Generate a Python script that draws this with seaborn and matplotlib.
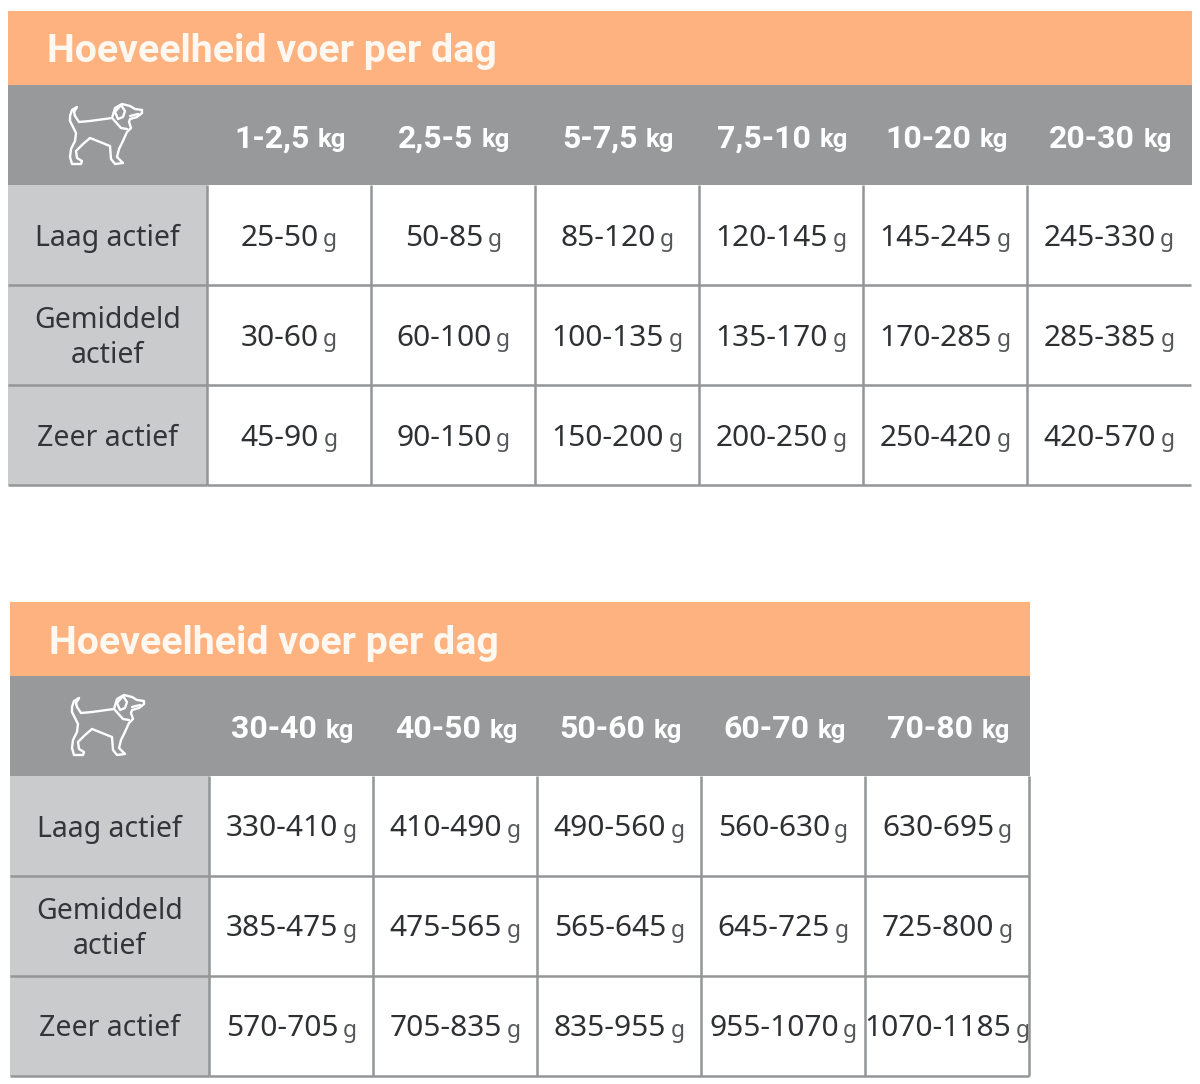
import numpy as np
import pandas as pd
import seaborn as sns
import matplotlib.pyplot as plt
from matplotlib.colors import ListedColormap
from matplotlib.patches import Rectangle

# table 1
weights_1 = ["1-2,5", "2,5-5", "5-7,5", "7,5-10", "10-20", "20-30"]
low_1 = ["25-50", "50-85", "85-120", "120-145", "145-245", "245-330"]
mid_1 = ["30-60", "60-100", "100-135", "135-170", "170-285", "285-385"]
high_1 = ["45-90", "90-150", "150-200", "200-250", "250-420", "420-570"]

# table 2
weights_2 = ["30-40", "40-50", "50-60", "60-70", "70-80"]
low_2 = ["330-410", "410-490", "490-560", "560-630", "630-695"]
mid_2 = ["385-475", "475-565", "565-645", "645-725", "725-800"]
high_2 = ["570-705", "705-835", "835-955", "955-1070", "1070-1185"]

row_labels = ["Laag actief", "Gemiddeld\nactief", "Zeer actief"]
title = "Hoeveelheid voer per dag"

ORANGE = "#FDB27F"
HEADER = "#97999B"
LABEL = "#C9CBCD"
LINE = "#939597"
W, H = 1200, 1084

# dog outline, in icon pixels
dog_body = [(37, 18), (32, 21), (30, 27), (30, 32), (33, 38), (36, 44), (35, 52), (31, 60),
            (30, 68), (32, 75), (41, 75), (42, 72), (37, 69), (36, 62), (43, 55), (50, 49),
            (60, 53), (70, 57), (71, 70), (75, 75), (83, 74), (77, 68), (79, 60), (82, 54),
            (87, 43), (91, 39), (89, 33), (90, 30), (97, 28), (102, 24), (102, 21), (95, 20),
            (90, 17), (82, 15), (75, 19), (72, 29), (50, 32), (39, 33), (35, 27), (34, 23), (37, 18)]
dog_ear = [(81, 16), (75, 23), (78, 30), (83, 28), (85, 22), (81, 16)]
dog_collar = [(73, 30), (81, 39), (87, 40)]
dog_mouth = [(90, 27), (98, 25)]

sns.set_theme(style="white")
plt.rcParams["font.family"] = ["Noto Sans", "DejaVu Sans"]

fig = plt.figure(figsize=(W / 100, H / 100), dpi=100)


def place(x0, y0, x1, y1):
    return fig.add_axes([x0 / W, 1 - y1 / H, (x1 - x0) / W, (y1 - y0) / H])


def flat_heatmap(ax, labels, fill, **text_style):
    # one colour heatmap, only used for the cells and the centred text
    zeros = np.zeros(labels.shape)
    sns.heatmap(zeros, annot=labels, fmt="", cmap=ListedColormap([fill]), cbar=False,
                xticklabels=False, yticklabels=False, annot_kws=text_style, ax=ax)


def nudge(ax, dx, dy):
    for t in ax.texts:
        x, y = t.get_position()
        t.set_position((x + dx, y + dy))


def add_units(ax, unit, size, color, weight, gap=3.5, family="Noto Sans"):
    # the 0.21 is about where the baseline sits in the text box
    for t in list(ax.texts):
        ax.annotate(unit, xy=(1, 0.21), xycoords=t, xytext=(gap, 0), textcoords="offset points",
                    fontsize=size, color=color, fontweight=weight, family=family,
                    va="baseline", ha="left")


def rules(ax, nrows, ncols, first_col, last_col):
    ax.hlines(np.arange(1, nrows + 1), 0, ncols, color=LINE, lw=1.8, clip_on=False)
    start = 0 if first_col else 1
    stop = ncols + 1 if last_col else ncols
    ax.vlines(np.arange(start, stop), 0, nrows, color=LINE, lw=1.8, clip_on=False)


def draw_table(x, y, weights, low, mid, high, last_col):
    cell_w = 164
    right = x + 200 + cell_w * len(weights)

    bg = place(x, y, right, y + 174)
    bg.set_xlim(0, right - x)
    bg.set_ylim(174, 0)
    bg.axis("off")
    bg.add_patch(Rectangle((0, 0), right - x, 74, color=ORANGE, lw=0))
    bg.add_patch(Rectangle((0, 74), right - x, 100, color=HEADER, lw=0))
    bg.text(39, 41, title, color="#FFF8F1", fontsize=28.3, fontweight="bold", family="Roboto",
            va="center", ha="left")
    for part in [dog_body, dog_ear, dog_collar, dog_mouth]:
        pts = np.array(part)
        bg.plot(pts[:, 0] + 32, pts[:, 1] + 78, color="white", lw=1.7, solid_joinstyle="round")

    head = place(x + 200, y + 74, right, y + 174)
    flat_heatmap(head, np.array([weights]), HEADER, color="white", fontsize=23, fontweight="bold",
                 family="Roboto")
    nudge(head, -0.11, 0.035)
    add_units(head, "kg", 18.5, "white", "bold", gap=6, family="Roboto")

    side = place(x, y + 174, x + 199, y + 474)
    flat_heatmap(side, np.array(row_labels).reshape(3, 1), LABEL, color="#333538", fontsize=20.5,
                 linespacing=1.3)
    nudge(side, 0, 0.03)
    rules(side, 3, 1, False, False)

    body = place(x + 199, y + 174, right - 1, y + 474)
    frame = pd.DataFrame([low, mid, high])
    flat_heatmap(body, frame.values, "white", color="#2E3033", fontsize=21.5)
    nudge(body, -0.055, 0.03)
    add_units(body, "g", 16.5, "#55575A", "normal", gap=3)
    rules(body, 3, len(weights), True, last_col)


draw_table(8, 11, weights_1, low_1, mid_1, high_1, False)
draw_table(10, 602, weights_2, low_2, mid_2, high_2, True)

fig.savefig("out.png", dpi=100)
